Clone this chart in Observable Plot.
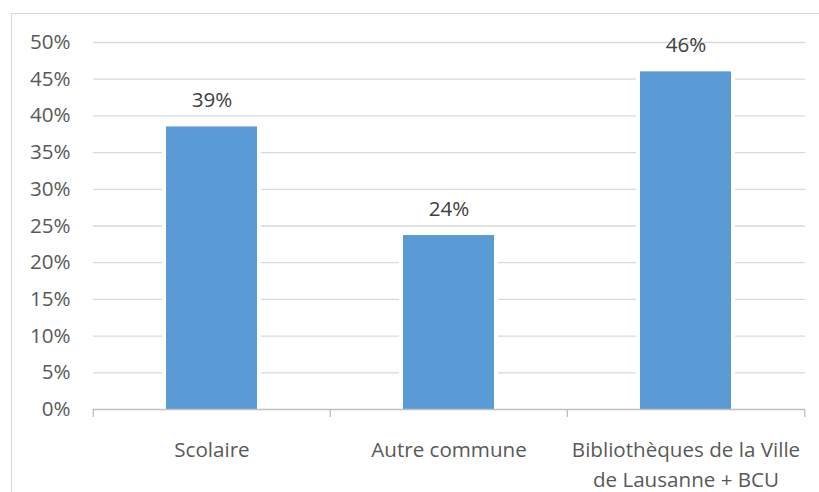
<!DOCTYPE html>
<html><head><meta charset="utf-8">
<script src="https://cdn.jsdelivr.net/npm/d3@7"></script>
<script src="https://cdn.jsdelivr.net/npm/@observablehq/plot@0.6"></script>
<style>
body{margin:0;background:#fff}
#wrap{position:relative;width:819px;height:492px;overflow:hidden}
#border{position:absolute;left:11px;top:13px;right:-2px;bottom:-2px;border-top:1px solid #d9d9d9;border-left:1px solid #d9d9d9;pointer-events:none}
#wrap svg{position:absolute;left:0;top:0}
</style>
</head><body><div id="wrap"><div id="border"></div></div>
<script>
const categories = ["Scolaire", "Autre commune", "Bibliothèques de la Ville\nde Lausanne + BCU"];
const values = [0.385, 0.237, 0.46];
const yTicks = [0, 0.05, 0.10, 0.15, 0.20, 0.25, 0.30, 0.35, 0.40, 0.45, 0.50];

const data = categories.map((c, i) => ({category: c, value: values[i]}));
const W = 819, H = 492, mL = 93, mR = 14, mT = 42, mB = 83;
const step = (W - mL - mR) / categories.length;
const FS = 20.6;

const chart = Plot.plot({
  width: W, height: H,
  marginLeft: mL, marginRight: mR, marginTop: mT, marginBottom: mB,
  style: {fontFamily: "'Open Sans', sans-serif", fontSize: FS + "px", background: "transparent", overflow: "visible"},
  x: {domain: categories, paddingInner: 0.616, paddingOuter: 0.308, axis: null},
  y: {domain: [0, 0.5], axis: null},
  marks: [
    Plot.ruleY(yTicks.filter(t => t > 0), {stroke: "#d9d9d9", strokeWidth: 1.3}),
    Plot.barY(data, {x: "category", y: "value", fill: "#5b9bd5", stroke: "#fff", strokeWidth: 8, paintOrder: "stroke"}),
    Plot.ruleY([0], {stroke: "#bfbfbf", strokeWidth: 1.3}),
    Plot.ruleX(categories, {x: d => d, dx: -step / 2, y1: 0, y2: 0, insetBottom: -8, stroke: "#bfbfbf", strokeWidth: 1.3}),
    Plot.ruleX(categories.slice(-1), {x: d => d, dx: step / 2, y1: 0, y2: 0, insetBottom: -8, stroke: "#bfbfbf", strokeWidth: 1.3}),
    Plot.axisY({ticks: yTicks, tickFormat: d => Math.round(d * 100) + "%", tickSize: 0, tickPadding: 23, color: "#595959", fontSize: FS, label: null}),
    Plot.text(data, {x: "category", y: 0, text: "category", dy: 27, lineAnchor: "top", lineHeight: 1.42, fill: "#595959", fontSize: FS}),
    Plot.text(data, {x: "category", y: "value", text: d => Math.round(d.value * 100) + "%", dy: -19.5, lineAnchor: "bottom", fill: "#404040", fontSize: FS})
  ]
});
document.getElementById("wrap").appendChild(chart);
</script>
</body></html>
